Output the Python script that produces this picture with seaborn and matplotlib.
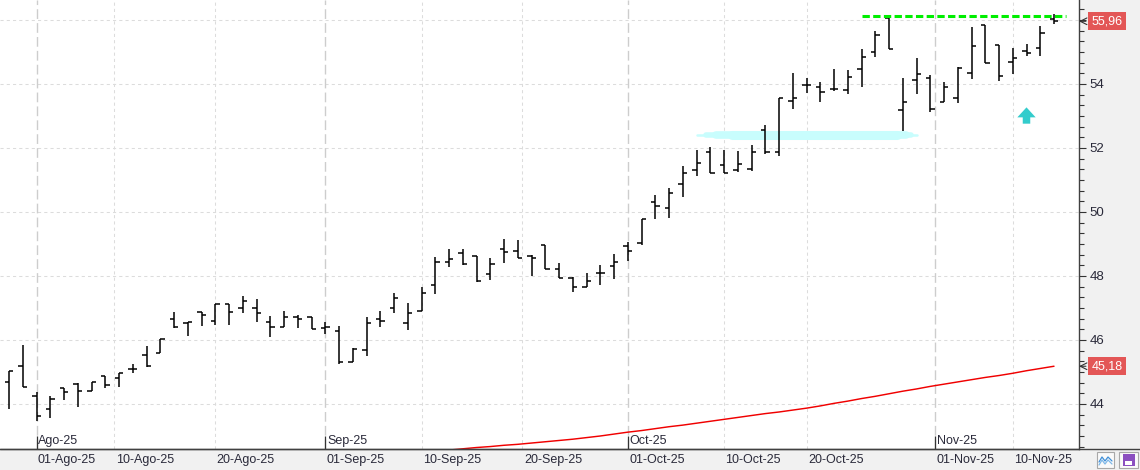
import numpy as np
import pandas as pd
import matplotlib
matplotlib.use('Agg')
import matplotlib.pyplot as plt
import seaborn as sns
from matplotlib.ticker import FixedLocator, MultipleLocator
from matplotlib.transforms import ScaledTranslation
from matplotlib.patches import Rectangle
from matplotlib.lines import Line2D

# daily bars 30-Jul-25 .. 13-Nov-25
dates = pd.bdate_range('2025-07-30', '2025-11-13')
opens = [44.69, 45.19, 44.25, 43.84, 44.49, 44.63, 44.42, 44.88, 44.82, 45.09,
         45.53, 45.60, 46.65, 46.54, 46.87, 46.59, 47.11, 46.99, 46.99, 46.57,
         46.40, 46.73, 46.73, 46.37, 46.29, 45.32, 45.69, 46.65, 46.99, 46.52,
         46.91, 47.72, 48.43, 48.71, 48.63, 48.06, 48.83, 48.78, 48.63, 48.97,
         48.21, 47.93, 47.67, 48.08, 48.31, 48.95, 49.04, 50.30, 50.11, 50.87,
         51.31, 51.87, 51.47, 51.31, 51.34, 52.56, 51.87, 53.47, 53.97, 53.92,
         53.83, 53.81, 54.46, 55.01, 56.05, 53.19, 54.13, 54.18, 53.43, 53.55,
         54.33, 55.84, 55.22, 54.70, 55.03, 55.12, 56.03]
highs = [45.03, 45.84, 44.36, 44.25, 44.49, 44.65, 44.70, 44.88, 44.98, 45.24,
         45.82, 46.02, 46.87, 46.57, 46.89, 47.13, 47.11, 47.38, 47.27, 46.75,
         46.92, 46.78, 46.73, 46.55, 46.45, 45.74, 46.71, 46.91, 47.46, 47.15,
         47.65, 48.58, 48.83, 48.83, 48.63, 48.55, 49.15, 49.13, 48.66, 48.97,
         48.42, 47.98, 48.10, 48.34, 48.68, 49.05, 49.78, 50.53, 50.76, 51.44,
         51.94, 52.02, 51.94, 51.91, 52.09, 52.72, 53.55, 54.33, 54.18, 54.07,
         54.47, 54.44, 55.09, 55.66, 56.05, 54.18, 54.80, 54.28, 54.05, 54.52,
         55.77, 55.84, 55.22, 55.12, 55.25, 55.81, 56.18]
lows = [43.84, 44.54, 43.47, 43.55, 44.13, 43.92, 44.42, 44.49, 44.54, 44.96,
        45.17, 45.58, 46.37, 46.14, 46.45, 46.47, 46.47, 46.85, 46.55, 46.10,
        46.40, 46.39, 46.33, 46.19, 45.25, 45.32, 45.50, 46.42, 46.84, 46.31,
        46.91, 47.43, 48.27, 48.34, 47.82, 47.88, 48.42, 48.55, 48.00, 48.21,
        47.93, 47.51, 47.65, 47.72, 47.90, 48.48, 48.97, 49.77, 49.80, 50.46,
        51.13, 51.23, 51.21, 51.26, 51.29, 51.81, 51.76, 53.21, 53.73, 53.43,
        53.79, 53.69, 53.92, 54.83, 55.09, 52.54, 53.69, 53.14, 53.43, 53.40,
        54.16, 54.65, 54.10, 54.31, 54.86, 54.89, 55.87]
closes = [45.03, 44.54, 43.63, 44.15, 44.39, 44.41, 44.68, 44.59, 44.96, 45.09,
          45.19, 46.02, 46.42, 46.56, 46.78, 47.13, 46.89, 47.22, 46.83, 46.42,
          46.71, 46.66, 46.33, 46.42, 45.32, 45.71, 46.52, 46.60, 47.30, 46.83,
          47.48, 48.43, 48.52, 48.38, 47.84, 48.38, 48.74, 48.55, 48.55, 48.21,
          47.93, 47.65, 47.85, 48.08, 48.43, 48.77, 49.78, 50.19, 50.58, 51.21,
          51.52, 51.23, 51.21, 51.49, 51.88, 51.87, 53.55, 53.55, 53.97, 53.74,
          53.83, 54.21, 54.83, 55.53, 55.09, 53.43, 54.31, 53.22, 53.90, 54.49,
          55.19, 54.65, 54.25, 54.80, 54.98, 55.58, 55.96]

# red moving average, starts at bar 31 (11-Sep-25)
ma_start = 31
ma_vals = [42.52, 42.56, 42.60, 42.64, 42.67, 42.71, 42.74, 42.78, 42.82, 42.86,
           42.90, 42.95, 43.00, 43.06, 43.12, 43.17, 43.23, 43.29, 43.34, 43.40,
           43.46, 43.52, 43.58, 43.64, 43.70, 43.75, 43.81, 43.87, 43.94, 44.02,
           44.09, 44.17, 44.24, 44.32, 44.40, 44.47, 44.55, 44.62, 44.69, 44.76,
           44.83, 44.89, 44.96, 45.04, 45.11, 45.18]

support = 52.40
resistance = 56.14
res_from = 62
sup_from, sup_to = 50, 66
arrow_bar = 74

tick_days = ['2025-08-01', '2025-08-10', '2025-08-20', '2025-09-01', '2025-09-10',
             '2025-09-20', '2025-10-01', '2025-10-10', '2025-10-20', '2025-11-01',
             '2025-11-10']
tick_labels = ['01-Ago-25', '10-Ago-25', '20-Ago-25', '01-Sep-25', '10-Sep-25',
               '20-Sep-25', '01-Oct-25', '10-Oct-25', '20-Oct-25', '01-Nov-25',
               '10-Nov-25']
month_days = ['2025-08-01', '2025-09-01', '2025-10-01', '2025-11-01']
month_labels = ['Ago-25', 'Sep-25', 'Oct-25', 'Nov-25']
price_ticks = [44, 46, 48, 50, 52, 54, 56]
price_labels = ['44', '46', '48', '50', '52', '54', '']

sns.set_theme(style='white')
plt.rcParams['font.family'] = ['Liberation Sans', 'DejaVu Sans']

W, H = 1140, 470
fig = plt.figure(figsize=(W / 100, H / 100), dpi=100, facecolor='#f1f1f1')
ax = fig.add_axes([0, 21 / H, 1079 / W, 449 / H])
ax.set_facecolor('white')

idx = np.arange(len(dates))
ords = np.array([d.toordinal() for d in dates])
tick_pos = np.interp([pd.Timestamp(d).toordinal() for d in tick_days], ords, idx)
month_pos = np.interp([pd.Timestamp(d).toordinal() for d in month_days], ords, idx)

# grid
for y in price_ticks:
    ax.axhline(y, color='#dcdcdc', lw=0.75, ls=(0, (3, 3)), zorder=0)
for p in tick_pos:
    if not np.any(np.isclose(p, month_pos)):
        ax.axvline(p, color='#dcdcdc', lw=0.75, ls=(0, (3, 3)), zorder=0)
for p in month_pos:
    ax.axvline(p, color='#cdcdcd', lw=1.0, ls=(0, (7, 3)), zorder=0)

# support zone (light cyan, tapered)
for cut, lw in [(0.0, 1.8), (0.7, 4.0), (1.4, 5.5), (2.6, 6.5)]:
    ax.plot([sup_from + cut, sup_to - cut * 0.55], [support, support],
            color='#c8fdfd', lw=lw, solid_capstyle='round', zorder=1)

# OHLC bars
hw = 0.32
ax.vlines(idx, lows, highs, color='black', lw=1.1, zorder=3)
ax.hlines(opens, idx - hw, idx, color='black', lw=1.1, zorder=3)
ax.hlines(closes, idx, idx + hw, color='black', lw=1.1, zorder=3)

# moving average
sns.lineplot(x=np.arange(ma_start, ma_start + len(ma_vals)), y=ma_vals,
             color='#f00000', lw=1.05, ax=ax, zorder=2)

# resistance
ax.plot([res_from, len(dates) - 0.1], [resistance, resistance], color='#00ee00',
        lw=2.2, dashes=(2.4, 1.1), dash_capstyle='butt', zorder=4)

# up arrow
ax.annotate('', xy=(arrow_bar, 53.27), xytext=(arrow_bar, 52.76),
            arrowprops=dict(arrowstyle='simple,head_length=0.6,head_width=1.1,tail_width=0.45',
                            color='#33cccc', lw=0, shrinkA=0, shrinkB=0), zorder=4)

ax.set_xlim(-9 / 13.75, 1070 / 13.75)
ax.set_ylim(54 - 365 / 32, 54 + 84 / 32)

# axes look
for s in ['top', 'left']:
    ax.spines[s].set_visible(False)
ax.spines['right'].set_color('#404040')
ax.spines['bottom'].set_color('#404040')
ax.spines['right'].set_linewidth(1.0)
ax.spines['bottom'].set_linewidth(1.0)
fig.add_artist(Line2D([0, 1], [21 / H, 21 / H], transform=fig.transFigure,
                      color='#404040', lw=1.0))

ax.yaxis.tick_right()
ax.yaxis.set_major_locator(FixedLocator(price_ticks))
ax.set_yticklabels(price_labels)
ax.yaxis.set_minor_locator(MultipleLocator(1 / 3))
ax.tick_params(axis='y', which='major', length=4.8, width=0.8, color='#333333',
               labelsize=9.5, labelcolor='#2a2a3a', pad=3, direction='out')
ax.tick_params(axis='y', which='minor', length=3.6, width=0.8, color='#333333',
               direction='out', right=True)

ax.set_xticks(tick_pos)
ax.set_xticklabels(tick_labels, ha='left')
ax.tick_params(axis='x', length=6.5, width=0.8, color='#333333', labelsize=9,
               labelcolor='#2a2a3a', pad=-2.6, direction='out')
shift = ScaledTranslation(1.5 / 100, 0, fig.dpi_scale_trans)
for lbl in ax.get_xticklabels():
    lbl.set_transform(lbl.get_transform() + shift)

# month markers inside the plot
ax.vlines(month_pos, 0, 13 / 449, transform=ax.get_xaxis_transform(),
          color='#333333', lw=0.9, zorder=5)
for p, m in zip(month_pos, month_labels):
    ax.annotate(m, xy=(p, 0), xycoords=('data', 'axes fraction'),
                xytext=(1.2, 5.8), textcoords='offset points', ha='left', va='center',
                fontsize=9, color='#2a2a3a')

# price flags on the right axis
for val, txt in [(closes[-1], '55,96'), (ma_vals[-1], '45,18')]:
    ax.text(1.0115, val, txt, transform=ax.get_yaxis_transform(), ha='left',
            va='center', color='white', fontsize=9, clip_on=False, zorder=10,
            bbox=dict(boxstyle='square,pad=0.25', fc='#e35656', ec='none'))
    ax.annotate('', xy=(1.0, val), xycoords=('axes fraction', 'data'),
                xytext=(5, 0), textcoords='offset points', annotation_clip=False,
                arrowprops=dict(arrowstyle='->', color='#333333', lw=0.8,
                                shrinkA=0, shrinkB=0))

# toolbar icons bottom right
fig.add_artist(Rectangle((1097 / W, 2.5 / H), 17 / W, 15.5 / H, transform=fig.transFigure,
                         fc='#fafafa', ec='#a8a8a8', lw=0.8))
fig.add_artist(Line2D(np.array([1099, 1102, 1105, 1108, 1112]) / W,
                      np.array([8, 13, 9, 13, 9]) / H, transform=fig.transFigure,
                      color='#3f8fd8', lw=0.9))
fig.add_artist(Line2D(np.array([1099, 1102, 1105, 1108, 1112]) / W,
                      np.array([5, 10, 6, 10, 6]) / H, transform=fig.transFigure,
                      color='#7fb8e8', lw=0.9))
fig.add_artist(Rectangle((1119 / W, 2.5 / H), 19 / W, 15.5 / H, transform=fig.transFigure,
                         fc='#fafafa', ec='#a8a8a8', lw=0.8))
fig.add_artist(Rectangle((1122.5 / W, 4.5 / H), 12 / W, 11.5 / H, transform=fig.transFigure,
                         fc='#8b4fc0', ec='none'))
fig.add_artist(Rectangle((1125 / W, 5.5 / H), 7 / W, 4 / H, transform=fig.transFigure,
                         fc='white', ec='none'))

fig.savefig('out.png', dpi=100, facecolor=fig.get_facecolor())
